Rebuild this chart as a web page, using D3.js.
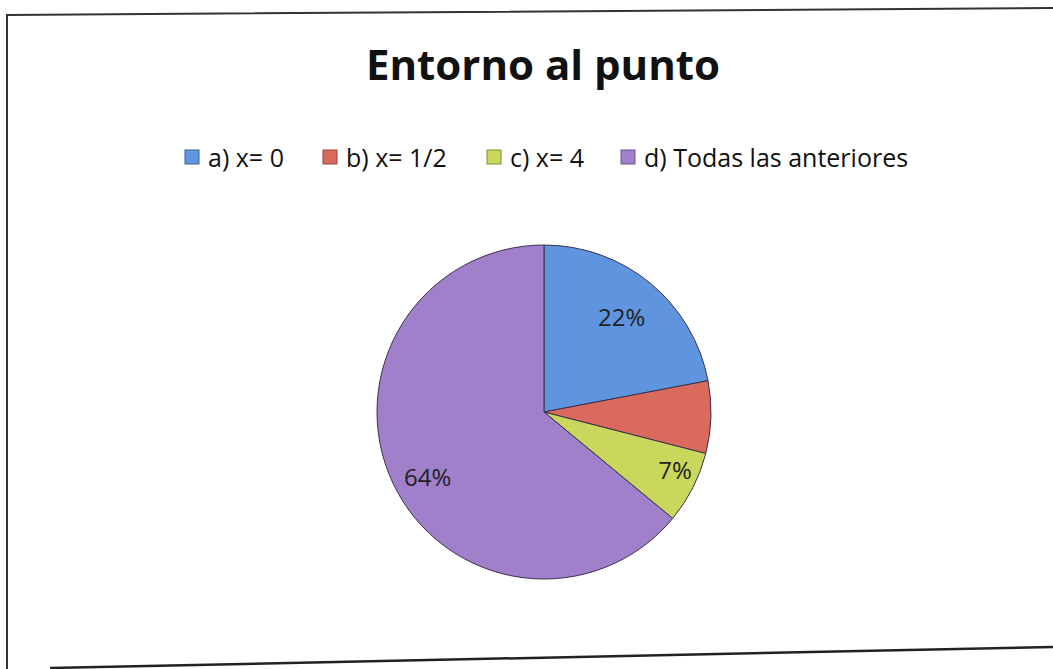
<!DOCTYPE html>
<html><head><meta charset="utf-8">
<script src="https://cdn.jsdelivr.net/npm/d3@7"></script>
<style>body{margin:0;background:#fff;}svg{display:block;}</style>
</head><body>
<svg id="c" width="1053" height="669"></svg>
<script>
const title = "Entorno al punto";
const categories = ["a) x= 0", "b) x= 1/2", "c) x= 4", "d) Todas las anteriores"];
const values = [22, 7, 7, 64];
const labels = ["22%", "", "7%", "64%"];
const colors = ["#5f95df", "#d96a5c", "#c9d85c", "#a07fcb"];
const legendX = [185, 323, 487, 621];

const svg = d3.select("#c");
const font = "Open Sans, Noto Sans, sans-serif";

// frame
svg.append("path").attr("d", "M7,669 L7,15 L1053,8").attr("fill","none").attr("stroke","#333").attr("stroke-width",2);
svg.append("path").attr("d", "M50,668 L1053,647").attr("fill","none").attr("stroke","#222").attr("stroke-width",2.5);

svg.append("text").attr("x", 543).attr("y", 80).attr("text-anchor","middle")
  .attr("font-family", font).attr("font-weight","bold").attr("font-size", 42).attr("fill","#111").text(title);

const lg = svg.append("g");
categories.forEach((c,i)=>{
  lg.append("rect").attr("x", legendX[i]).attr("y", 150).attr("width", 14).attr("height", 14)
    .attr("fill", colors[i]).attr("stroke", d3.color(colors[i]).darker(1.2)).attr("stroke-width",1);
  lg.append("text").attr("x", legendX[i]+23).attr("y", 167).attr("font-family", font).attr("font-size", 25)
    .attr("fill","#111").text(c);
});

const cx = 544, cy = 412, R = 167;
const pie = d3.pie().sort(null).value(d=>d)(values);
const arc = d3.arc().innerRadius(0).outerRadius(R);
const g = svg.append("g").attr("transform", `translate(${cx},${cy})`);
g.selectAll("path").data(pie).join("path").attr("d", arc)
  .attr("fill", (d,i)=>colors[i]).attr("stroke","#3a3050").attr("stroke-width",1);
const lr = [0.73, 0.7, 0.86, 0.8];
const la = [0, 0, -0.05, -0.073];
g.selectAll("text").data(pie).join("text")
  .attr("transform", (d,i)=>{ const a=(d.startAngle+d.endAngle)/2 + la[i]; const r=R*lr[i]; return `translate(${Math.sin(a)*r},${-Math.cos(a)*r})`; })
  .attr("text-anchor","middle").attr("dy","0.35em")
  .attr("font-family", font).attr("font-size", 24).attr("fill","#222")
  .text((d,i)=>labels[i]);
</script>
</body></html>
